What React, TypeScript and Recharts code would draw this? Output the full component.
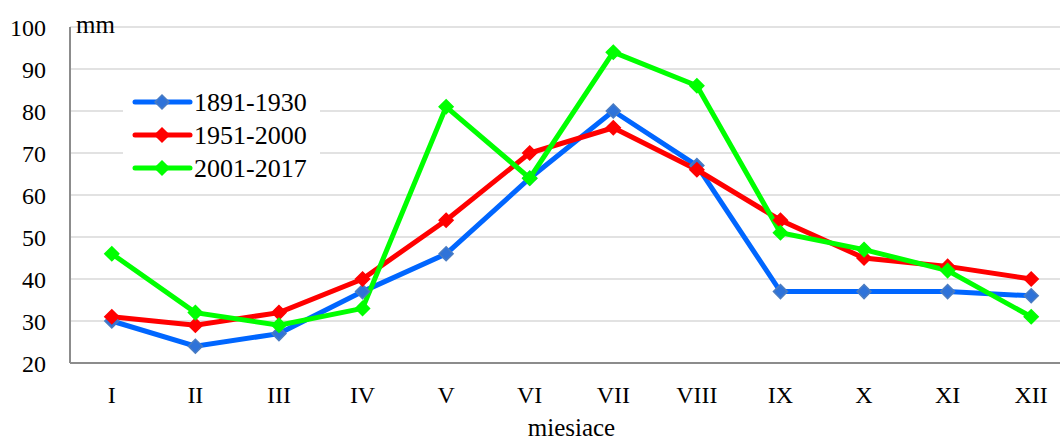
import { CartesianGrid, Label, Line, LineChart, XAxis, YAxis } from "recharts";

const months = ["I", "II", "III", "IV", "V", "VI", "VII", "VIII", "IX", "X", "XI", "XII"];
const p1891 = [30, 24, 27, 37, 46, 64, 80, 67, 37, 37, 37, 36];
const p1951 = [31, 29, 32, 40, 54, 70, 76, 66, 54, 45, 43, 40];
const p2001 = [46, 32, 29, 33, 81, 64, 94, 86, 51, 47, 42, 31];
const yTicks = [20, 30, 40, 50, 60, 70, 80, 90, 100];

const data = months.map((m, i) => ({ m, a: p1891[i], b: p1951[i], c: p2001[i] }));

const FONT = "Liberation Serif, Times New Roman, serif";

const series = [
  { key: "a", name: "1891-1930", color: "#0066ff", dotFill: "#2f73d9", dotStroke: "#4a7cc2" },
  { key: "b", name: "1951-2000", color: "#ff0000", dotFill: "#ff0000", dotStroke: "#ff0000" },
  { key: "c", name: "2001-2017", color: "#00ff00", dotFill: "#00ff00", dotStroke: "#00ff00" },
];

const diamond = (cx: number, cy: number, r: number) =>
  `${cx},${cy - r} ${cx + r},${cy} ${cx},${cy + r} ${cx - r},${cy}`;

function makeDot(fill: string, stroke: string) {
  return (props: any) => {
    const { cx, cy, index } = props;
    if (cx == null || cy == null) return <g key={index} />;
    return <polygon key={index} points={diamond(cx, cy, 7)} fill={fill} stroke={stroke} strokeWidth={1.5} />;
  };
}

function LegendBox() {
  return (
    <div style={{ position: "absolute", left: 123, top: 78, background: "#fff", width: 197, height: 108 }}>
      <svg width={197} height={108} style={{ display: "block" }}>
        {series.map((s, i) => {
          const y = 24 + i * 33;
          return (
            <g key={s.key}>
              <line x1={12} x2={67} y1={y} y2={y} stroke={s.color} strokeWidth={5} strokeLinecap="round" />
              <polygon points={diamond(39, y, 7)} fill={s.dotFill} stroke={s.dotStroke} strokeWidth={1.5} />
              <text x={71} y={y + 9} style={{ fontFamily: FONT, fontSize: 26 }} fill="#000">
                {s.name}
              </text>
            </g>
          );
        })}
      </svg>
    </div>
  );
}

export default function App() {
  return (
    <div style={{ position: "fixed", left: 0, top: 0, width: 1060, height: 441, overflow: "hidden", background: "#fff", fontFamily: FONT }}>
      <LineChart width={1080} height={441} data={data} margin={{ top: 27, right: 7, left: 0, bottom: 0 }}>
        <CartesianGrid vertical={false} stroke="#d9d9d9" strokeWidth={1.5} />
        <XAxis
          dataKey="m"
          height={78}
          padding={{ left: 41.8, right: 41.8 }}
          axisLine={{ stroke: "#8c8c8c", strokeWidth: 2 }}
          tickLine={false}
          tickSize={0}
          tickMargin={23}
          tick={{ fill: "#000", fontFamily: FONT, fontSize: 24 }}
          interval={0}
        >
          <Label value="miesiace" position="insideBottom" offset={5} fill="#000" style={{ fontFamily: FONT, fontSize: 25 }} />
        </XAxis>
        <YAxis
          width={70}
          domain={[20, 100]}
          ticks={yTicks}
          interval={0}
          axisLine={{ stroke: "#8c8c8c", strokeWidth: 2 }}
          tickLine={false}
          tickSize={0}
          tickMargin={24}
          tick={{ fill: "#000", fontFamily: FONT, fontSize: 24 }}
        >
          <Label
            content={(props: any) => {
              const vb = props.viewBox || { x: 0, y: 27, width: 70 };
              return (
                <text x={vb.x + vb.width + 6} y={vb.y + 6} style={{ fontFamily: FONT, fontSize: 25 }} fill="#000">
                  mm
                </text>
              );
            }}
          />
        </YAxis>
        {series.map((s) => (
          <Line
            key={s.key}
            type="linear"
            dataKey={s.key}
            name={s.name}
            stroke={s.color}
            strokeWidth={5}
            dot={makeDot(s.dotFill, s.dotStroke)}
            activeDot={false}
            isAnimationActive={false}
          />
        ))}
      </LineChart>
      <LegendBox />
    </div>
  );
}
